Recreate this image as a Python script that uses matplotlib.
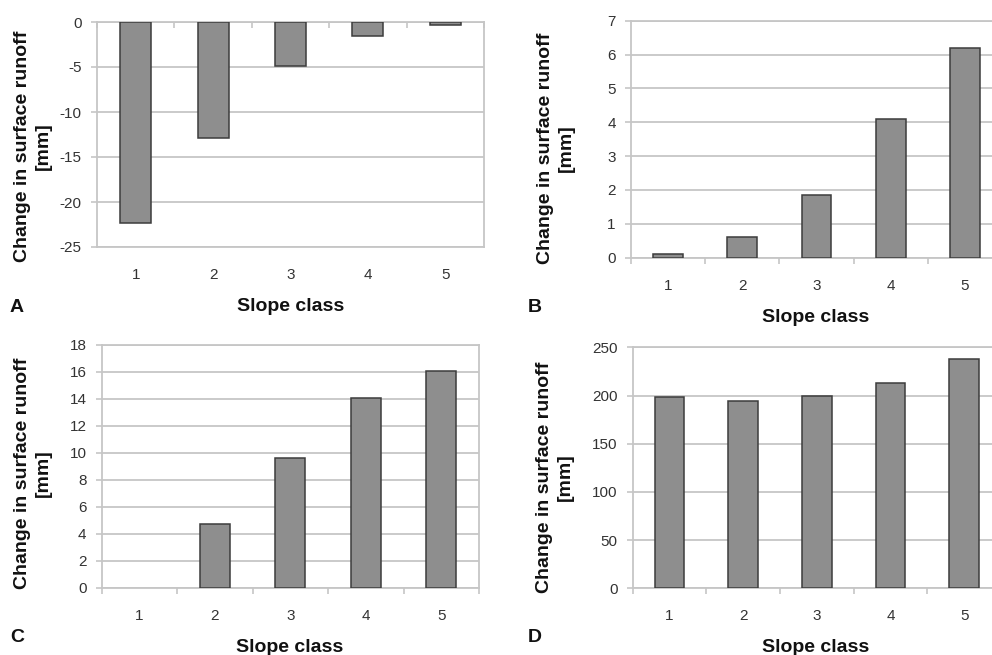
import numpy as np
import matplotlib
matplotlib.use('Agg')
import matplotlib.pyplot as plt

plt.rcParams['font.family'] = ['Liberation Sans', 'DejaVu Sans']
plt.rcParams['axes.unicode_minus'] = False

# slope classes and the runoff change for each panel
slope_class = [1, 2, 3, 4, 5]
runoff_a = [-22.3, -12.9, -4.9, -1.6, -0.3]
runoff_b = [0.1, 0.61, 1.84, 4.1, 6.2]
runoff_c = [0.0, 4.7, 9.6, 14.05, 16.1]
runoff_d = [198, 194, 200, 213, 238]

bar_face = '#8e8e8e'
bar_edge = '#3c3c3c'
grid_col = '#c6c6c6'
text_col = '#333333'

fig = plt.figure(figsize=(9.92, 6.55), dpi=100)


def axes_px(left, top, right, bottom):
    W, H = 992, 655
    return fig.add_axes([left / W, (H - bottom) / H, (right - left) / W, (bottom - top) / H])


def panel(ax, vals, ylim, ystep, ticks_top=False):
    x = np.array(slope_class)
    lw = [1.1 if v != 0 else 0 for v in vals]
    ax.bar(x, vals, width=0.4, color=bar_face, edgecolor=bar_edge, linewidth=lw, zorder=3)
    ax.set_xlim(0.5, 5.5)
    ax.set_ylim(*ylim)
    ax.set_yticks(np.arange(ylim[0], ylim[1] + ystep / 2, ystep))
    ax.yaxis.grid(True, color=grid_col, linewidth=1.3, zorder=0)
    for s in ax.spines.values():
        s.set_color(grid_col)
        s.set_linewidth(1.3)
    ax.set_xticks(slope_class)
    ax.set_xticklabels([str(v) for v in slope_class])
    ax.set_xticks(np.arange(0.5, 5.6, 1.0), minor=True)
    ax.tick_params(axis='x', which='major', length=0, pad=15, labelsize=11, labelcolor=text_col)
    if ticks_top:
        ax.tick_params(axis='x', which='minor', bottom=False, top=True, direction='in',
                       length=4, color=grid_col, width=1.2)
    else:
        ax.tick_params(axis='x', which='minor', direction='out', length=4, color=grid_col, width=1.2)
    ax.tick_params(axis='y', which='major', direction='out', length=4, color=grid_col, width=1.2,
                   pad=7, labelsize=11, labelcolor=text_col)


ax_a = axes_px(97, 22, 484, 247)
panel(ax_a, runoff_a, (-25, 0), 5, ticks_top=True)
ax_b = axes_px(631, 20.7, 1002, 257.7)
panel(ax_b, runoff_b, (0, 7), 1)
ax_c = axes_px(101.7, 345, 479, 587.7)
panel(ax_c, runoff_c, (0, 18), 2)
ax_d = axes_px(632.7, 347.3, 1001, 588.3)
panel(ax_d, runoff_d, (0, 250), 50)

W, H = 992, 655
ylab = 'Change in surface runoff\n[mm]'
labels = [
    # (ylabel x, ylabel y, letter x, letter y, slope x, slope y, letter)
    (33, 146, 17, 307, 291, 306, 'A'),
    (556, 148, 535, 307, 816, 318, 'B'),
    (33, 473, 17, 637, 290, 647, 'C'),
    (555, 477, 535, 637, 816, 647, 'D'),
]
for yx, yy, lx, ly, sx, sy, letter in labels:
    fig.text(yx / W, 1 - yy / H, ylab, rotation=90, ha='center', va='center',
             multialignment='center', fontsize=14, fontweight='bold', color='#111111',
             linespacing=1.25)
    fig.text(lx / W, 1 - ly / H, letter, ha='center', va='center', fontsize=14,
             fontweight='bold', color='#111111')
    fig.text(sx / W, 1 - sy / H, 'Slope class', ha='center', va='center', fontsize=14,
             fontweight='bold', color='#111111')

fig.savefig('out.png', dpi=100)
